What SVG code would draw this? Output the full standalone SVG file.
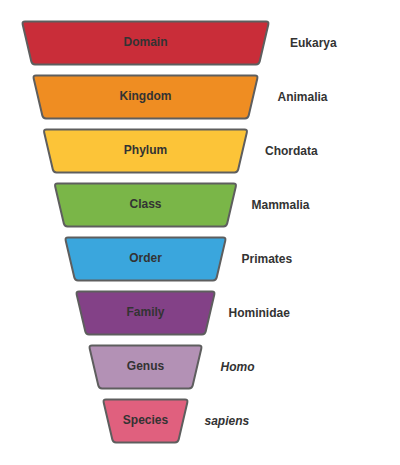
<svg xmlns="http://www.w3.org/2000/svg" width="400" height="465" viewBox="0 0 400 465">
<style>
.shape{stroke:#5e5e5e;stroke-width:2;stroke-linejoin:round}
.lbl{font-family:"Liberation Sans",Arial,sans-serif;font-size:12px;font-weight:bold;fill:#333333;text-anchor:middle}
.val{font-family:"Liberation Sans",Arial,sans-serif;font-size:12px;font-weight:bold;fill:#333333}
.it{font-style:italic}
</style>
<rect width="400" height="465" fill="#ffffff"/>
<g id="domain">
<path class="shape" fill="#c92d39" d="M25,21.5 L266,21.5 Q269,21.5 268.32,24.42 L259.68,61.58 Q259,64.5 256,64.5 L35,64.5 Q32,64.5 31.32,61.58 L22.68,24.42 Q22,21.5 25,21.5 Z"/>
<text class="lbl" x="145.5" y="46">Domain</text>
<text class="val" x="290" y="46.5">Eukarya</text>
</g>
<g id="kingdom">
<path class="shape" fill="#ef8d22" d="M36,75.5 L255,75.5 Q258,75.5 257.32,78.42 L248.68,115.58 Q248,118.5 245,118.5 L46,118.5 Q43,118.5 42.32,115.58 L33.68,78.42 Q33,75.5 36,75.5 Z"/>
<text class="lbl" x="145.5" y="100">Kingdom</text>
<text class="val" x="277.5" y="100.5">Animalia</text>
</g>
<g id="phylum">
<path class="shape" fill="#fcc438" d="M46.5,129.5 L244.5,129.5 Q247.5,129.5 246.82,132.42 L238.18,169.58 Q237.5,172.5 234.5,172.5 L56.5,172.5 Q53.5,172.5 52.82,169.58 L44.18,132.42 Q43.5,129.5 46.5,129.5 Z"/>
<text class="lbl" x="145.5" y="154">Phylum</text>
<text class="val" x="265" y="154.5">Chordata</text>
</g>
<g id="class">
<path class="shape" fill="#7ab648" d="M57.5,183.5 L233.5,183.5 Q236.5,183.5 235.82,186.42 L227.18,223.58 Q226.5,226.5 223.5,226.5 L67.5,226.5 Q64.5,226.5 63.82,223.58 L55.18,186.42 Q54.5,183.5 57.5,183.5 Z"/>
<text class="lbl" x="145.5" y="208">Class</text>
<text class="val" x="251.5" y="208.5">Mammalia</text>
</g>
<g id="order">
<path class="shape" fill="#3aa6dd" d="M68,237.5 L223,237.5 Q226,237.5 225.32,240.42 L216.68,277.58 Q216,280.5 213,280.5 L78,280.5 Q75,280.5 74.32,277.58 L65.68,240.42 Q65,237.5 68,237.5 Z"/>
<text class="lbl" x="145.5" y="262">Order</text>
<text class="val" x="241.5" y="262.5">Primates</text>
</g>
<g id="family">
<path class="shape" fill="#834187" d="M79,291.5 L212,291.5 Q215,291.5 214.32,294.42 L205.68,331.58 Q205,334.5 202,334.5 L89,334.5 Q86,334.5 85.32,331.58 L76.68,294.42 Q76,291.5 79,291.5 Z"/>
<text class="lbl" x="145.5" y="316">Family</text>
<text class="val" x="228.5" y="316.5">Hominidae</text>
</g>
<g id="genus">
<path class="shape" fill="#b391b5" d="M92,345.5 L199,345.5 Q202,345.5 201.32,348.42 L192.68,385.58 Q192,388.5 189,388.5 L102,388.5 Q99,388.5 98.32,385.58 L89.68,348.42 Q89,345.5 92,345.5 Z"/>
<text class="lbl" x="145.5" y="370">Genus</text>
<text class="val it" x="220.5" y="370.5">Homo</text>
</g>
<g id="species">
<path class="shape" fill="#e0607e" d="M106,399.5 L185,399.5 Q188,399.5 187.32,402.42 L178.68,439.58 Q178,442.5 175,442.5 L116,442.5 Q113,442.5 112.32,439.58 L103.68,402.42 Q103,399.5 106,399.5 Z"/>
<text class="lbl" x="145.5" y="424">Species</text>
<text class="val it" x="204.5" y="424.5">sapiens</text>
</g>
<g id="connectors"></g>
</svg>
